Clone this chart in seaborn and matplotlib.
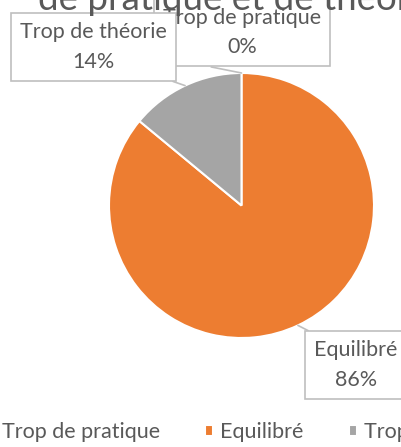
import numpy as np
import seaborn as sns
import matplotlib.pyplot as plt

# data
categories = ["Trop de pratique", "Equilibré", "Trop de théorie"]
percents = [0, 86, 14]
colors = ["#4472C4", "#ED7D31", "#A5A5A5"]
title_line = "de pratique et de théorie"

sns.set_theme(style="white")
plt.rcParams['font.family'] = ['Lato', 'DejaVu Sans']
palette = sns.color_palette(colors)
txt_col = "#595959"
box_col = "#BFBFBF"
fs = 15.5

W, H = 402, 447
fig = plt.figure(figsize=(W / 100, H / 100), dpi=100)
# pie centre and radius in pixels
cx, cy, r = 241.5, 205.5, 132.5
ax = fig.add_axes([(cx - r) / W, (H - cy - r) / H, 2 * r / W, 2 * r / H])
wedges, _ = ax.pie(percents, colors=palette, startangle=90, counterclock=False,
                   radius=1, wedgeprops=dict(edgecolor="white", linewidth=1.5))
ax.set_xlim(-1, 1)
ax.set_ylim(-1, 1)
ax.set_aspect("equal")
ax.axis("off")

# title (cut off by the top of the picture)
fig.text(38 / W, 1 - 10 / H, title_line, fontsize=26.5, color=txt_col,
         ha="left", va="baseline", zorder=1)


def px2data(px, py):
    return (px - cx) / r, (cy - py) / r


# label box centres (pixels) and leader start on the box
box_pos = {"Trop de pratique": ((242, 32.5), (0.0, 0.0), 3),
           "Equilibré": ((356, 365), (0.15, 1.0), 3),
           "Trop de théorie": ((93.5, 47), (0.85, 0.0), 4)}

start = 0.0
for cat, p in zip(categories, percents):
    mid = start + p / 2
    ang = np.deg2rad(90 - mid / 100 * 360)
    start += p
    (bx, by), rel, z = box_pos[cat]
    ax.annotate(f"{cat}\n{p}%", xy=(np.cos(ang), np.sin(ang)),
                xytext=px2data(bx, by), textcoords="data",
                ha="center", va="center", fontsize=fs, color=txt_col,
                linespacing=1.6, annotation_clip=False, zorder=z,
                bbox=dict(boxstyle="square,pad=0.42", fc="white", ec=box_col, lw=1.2),
                arrowprops=dict(arrowstyle="-", color=box_col, lw=1.2,
                                relpos=rel, shrinkA=0, shrinkB=0))

fig.legend(wedges, categories, loc="center", ncol=3,
           bbox_to_anchor=(249 / W, 1 - 432 / H), frameon=False,
           fontsize=fs, labelcolor=txt_col, handlelength=0.37, handleheight=0.37,
           handletextpad=0.33, columnspacing=2.1)

fig.savefig("out.png", dpi=100)
